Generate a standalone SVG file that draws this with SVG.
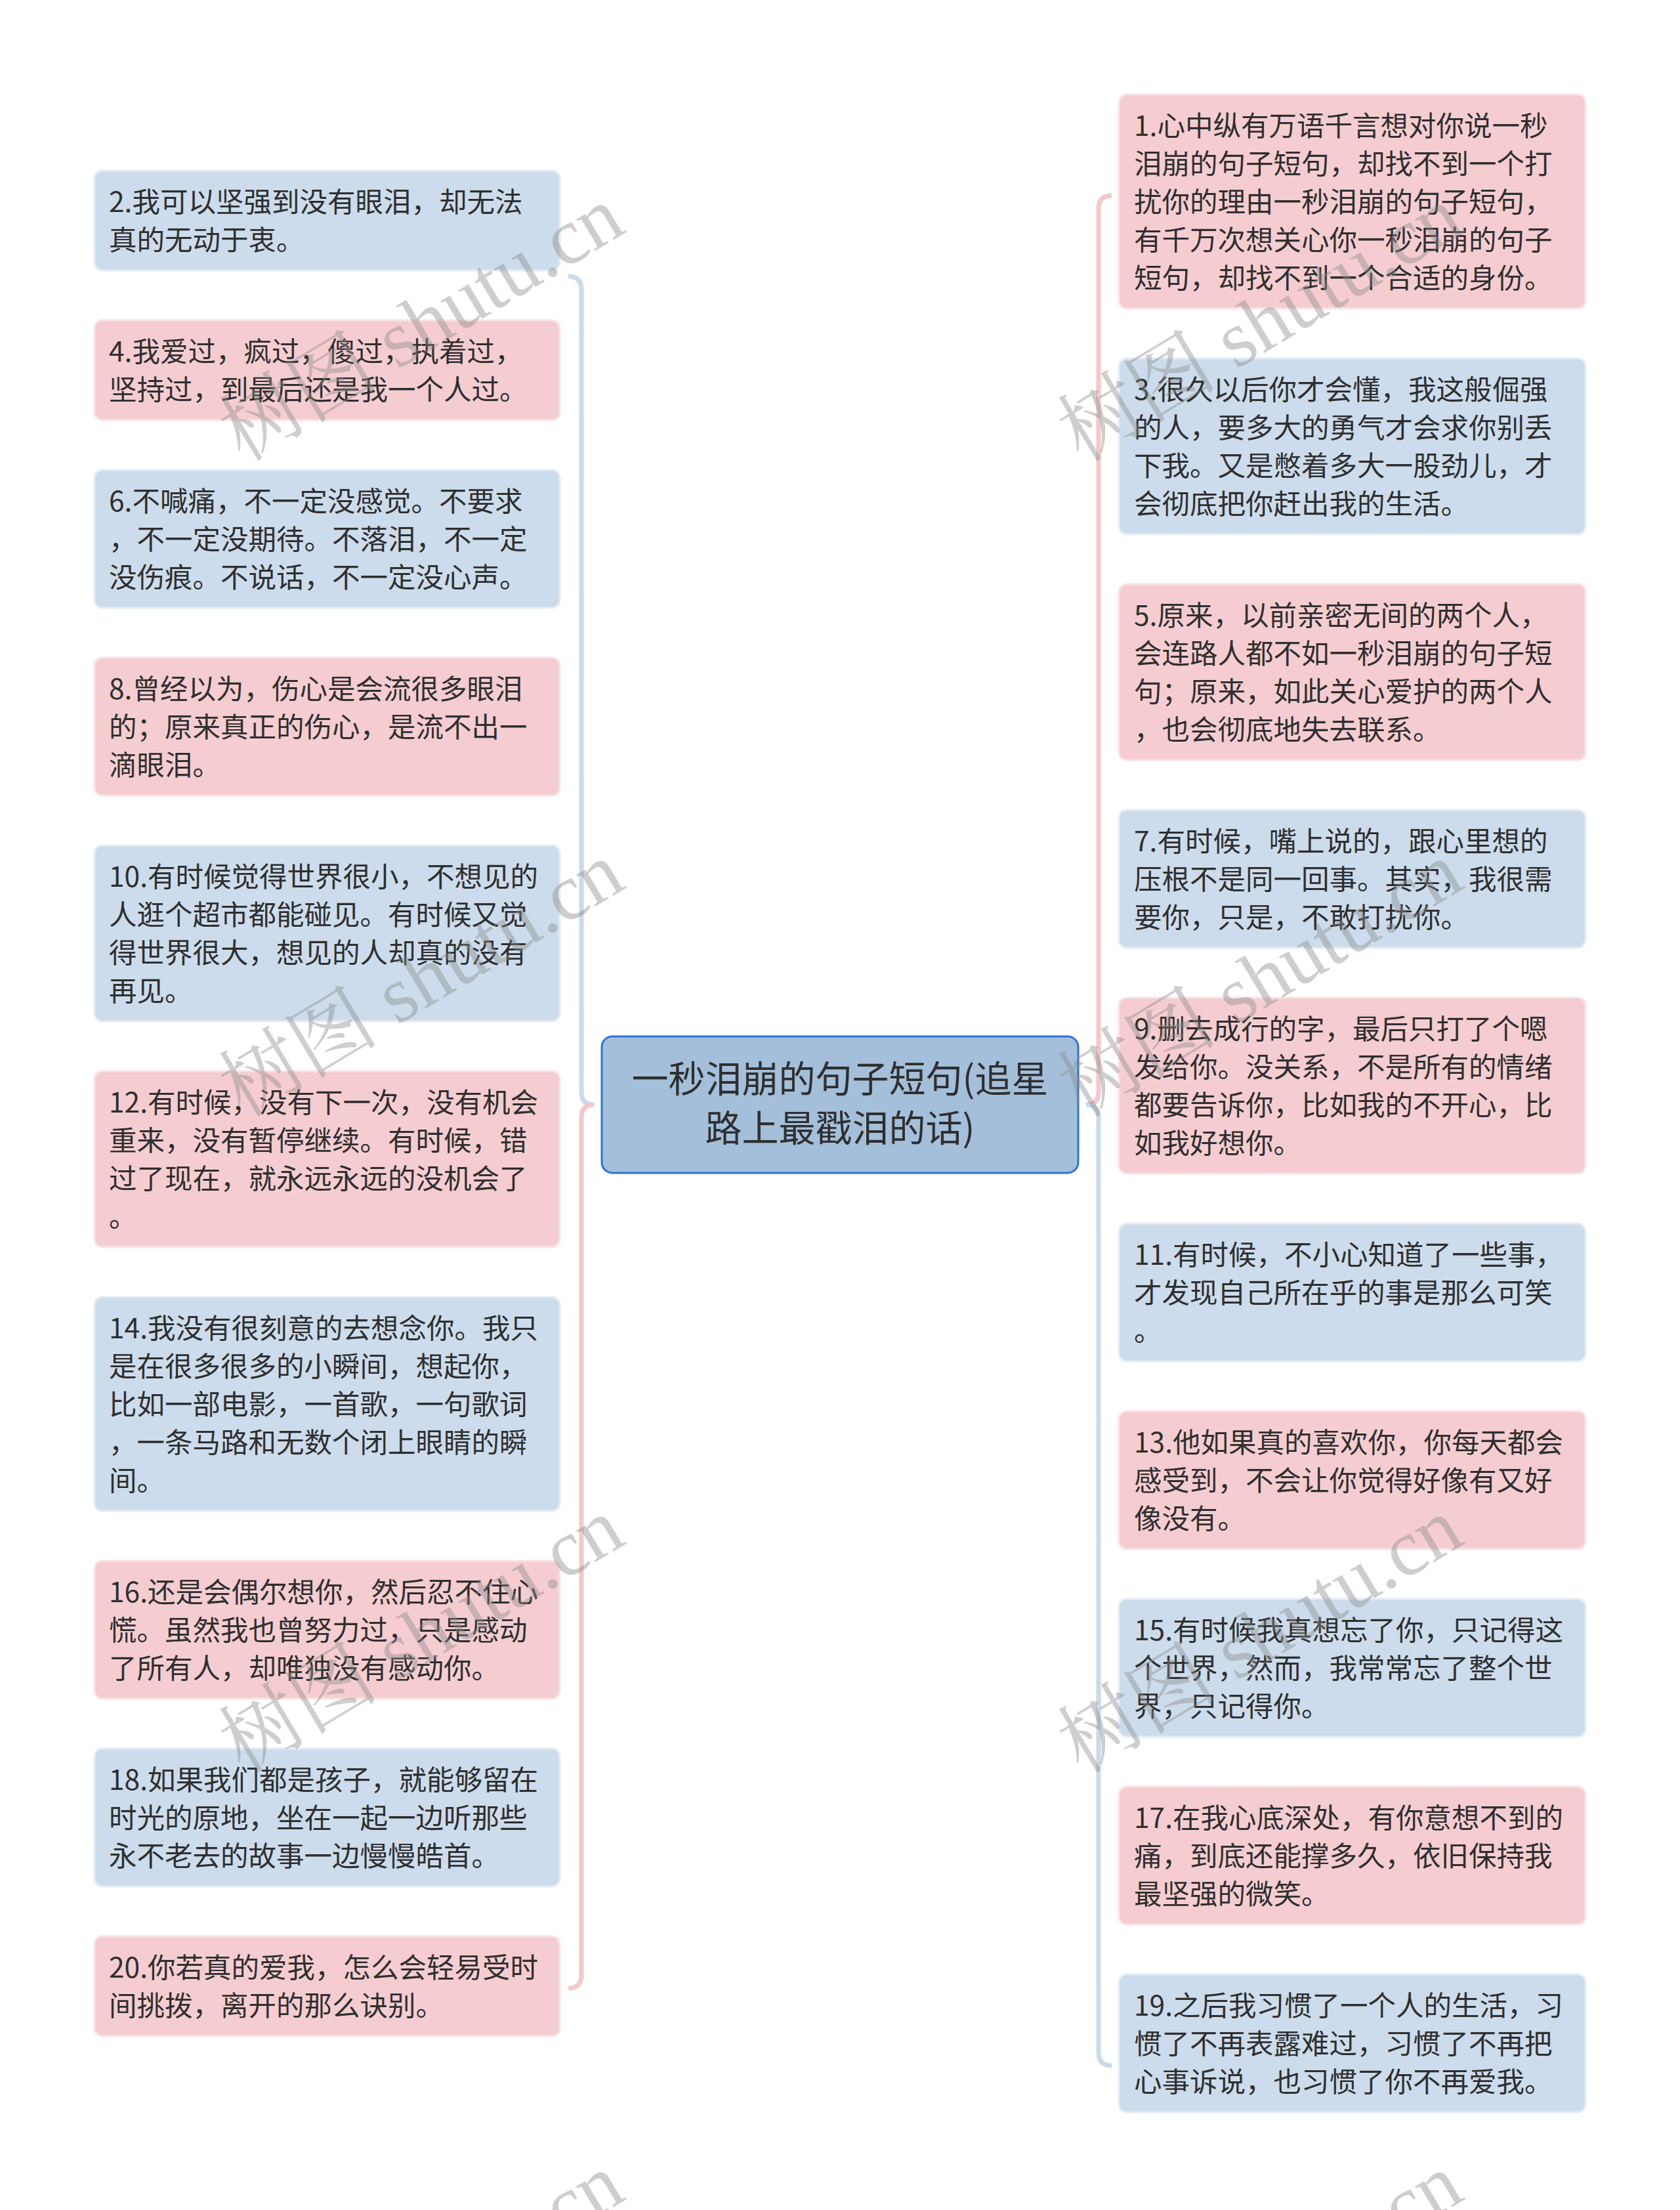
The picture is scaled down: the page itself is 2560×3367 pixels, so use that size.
<svg xmlns="http://www.w3.org/2000/svg" width="2560" height="3367" viewBox="0 0 2560 3367">
<style>
.bg{fill:#ffffff}
.nb rect{fill:#ccdcec;stroke:#e4ecf5;stroke-width:3}
.np rect{fill:#f5cdd0;stroke:#f9e3e4;stroke-width:3}
.t{font-family:"Noto Sans CJK SC","Noto Sans",sans-serif;font-size:42.5px;fill:#2f2f2f}
.ct{font-family:"Noto Sans CJK SC","Noto Sans",sans-serif;font-size:56px;fill:#2f2f2f;text-anchor:middle}
.lb{fill:none;stroke:#c9daeb;stroke-width:7;stroke-linecap:butt}
.lp{fill:none;stroke:#f3c8ca;stroke-width:7;stroke-linecap:butt}
.wm{font-family:"Liberation Serif","Noto Serif CJK SC","Noto Sans CJK SC",serif;font-size:122px;fill:#8a8a8a;fill-opacity:0.42}
</style>
<rect class="bg" x="0" y="0" width="2560" height="3367"/>
<g id="connectors">
<path class="lb" d="M 905 1683 Q 886 1683 886 1664 L 886 441 Q 886 421 866 421"/>
<path class="lp" d="M 905 1683 Q 886 1683 886 1702 L 886 3009 Q 886 3029 866 3029"/>
<path class="lp" d="M 1655 1683 Q 1674 1683 1674 1664 L 1674 318 Q 1674 298 1694 298"/>
<path class="lb" d="M 1655 1683 Q 1674 1683 1674 1702 L 1674 3127 Q 1674 3147 1694 3147"/>
</g>
<g id="center">
<rect x="917" y="1579" width="726" height="208" rx="16" fill="#a3bfda" stroke="#2f72d6" stroke-width="3"/>
<text class="ct" x="1280" y="1664">一秒泪崩的句子短句(追星</text>
<text class="ct" x="1280" y="1739">路上最戳泪的话)</text>
</g>
<g id="n2" class="nb"><rect x="144" y="260" width="709" height="152" rx="12"/>
<text class="t" x="166" y="323">2.我可以坚强到没有眼泪，却无法</text>
<text class="t" x="166" y="381">真的无动于衷。</text></g>
<g id="n4" class="np"><rect x="144" y="488" width="709" height="152" rx="12"/>
<text class="t" x="166" y="551">4.我爱过，疯过，傻过，执着过，</text>
<text class="t" x="166" y="609">坚持过，到最后还是我一个人过。</text></g>
<g id="n6" class="nb"><rect x="144" y="716" width="709" height="210" rx="12"/>
<text class="t" x="166" y="779">6.不喊痛，不一定没感觉。不要求</text>
<text class="t" x="166" y="837">，不一定没期待。不落泪，不一定</text>
<text class="t" x="166" y="895">没伤痕。不说话，不一定没心声。</text></g>
<g id="n8" class="np"><rect x="144" y="1002" width="709" height="210" rx="12"/>
<text class="t" x="166" y="1065">8.曾经以为，伤心是会流很多眼泪</text>
<text class="t" x="166" y="1123">的；原来真正的伤心，是流不出一</text>
<text class="t" x="166" y="1181">滴眼泪。</text></g>
<g id="n10" class="nb"><rect x="144" y="1288" width="709" height="268" rx="12"/>
<text class="t" x="166" y="1351">10.有时候觉得世界很小，不想见的</text>
<text class="t" x="166" y="1409">人逛个超市都能碰见。有时候又觉</text>
<text class="t" x="166" y="1467">得世界很大，想见的人却真的没有</text>
<text class="t" x="166" y="1525">再见。</text></g>
<g id="n12" class="np"><rect x="144" y="1632" width="709" height="268" rx="12"/>
<text class="t" x="166" y="1695">12.有时候，没有下一次，没有机会</text>
<text class="t" x="166" y="1753">重来，没有暂停继续。有时候，错</text>
<text class="t" x="166" y="1811">过了现在，就永远永远的没机会了</text>
<text class="t" x="166" y="1869">。</text></g>
<g id="n14" class="nb"><rect x="144" y="1976" width="709" height="326" rx="12"/>
<text class="t" x="166" y="2039">14.我没有很刻意的去想念你。我只</text>
<text class="t" x="166" y="2097">是在很多很多的小瞬间，想起你，</text>
<text class="t" x="166" y="2155">比如一部电影，一首歌，一句歌词</text>
<text class="t" x="166" y="2213">，一条马路和无数个闭上眼睛的瞬</text>
<text class="t" x="166" y="2271">间。</text></g>
<g id="n16" class="np"><rect x="144" y="2378" width="709" height="210" rx="12"/>
<text class="t" x="166" y="2441">16.还是会偶尔想你，然后忍不住心</text>
<text class="t" x="166" y="2499">慌。虽然我也曾努力过，只是感动</text>
<text class="t" x="166" y="2557">了所有人，却唯独没有感动你。</text></g>
<g id="n18" class="nb"><rect x="144" y="2664" width="709" height="210" rx="12"/>
<text class="t" x="166" y="2727">18.如果我们都是孩子，就能够留在</text>
<text class="t" x="166" y="2785">时光的原地，坐在一起一边听那些</text>
<text class="t" x="166" y="2843">永不老去的故事一边慢慢皓首。</text></g>
<g id="n20" class="np"><rect x="144" y="2950" width="709" height="152" rx="12"/>
<text class="t" x="166" y="3013">20.你若真的爱我，怎么会轻易受时</text>
<text class="t" x="166" y="3071">间挑拨，离开的那么诀别。</text></g>
<g id="n1" class="np"><rect x="1705" y="144" width="711" height="326" rx="12"/>
<text class="t" x="1728" y="207">1.心中纵有万语千言想对你说一秒</text>
<text class="t" x="1728" y="265">泪崩的句子短句，却找不到一个打</text>
<text class="t" x="1728" y="323">扰你的理由一秒泪崩的句子短句，</text>
<text class="t" x="1728" y="381">有千万次想关心你一秒泪崩的句子</text>
<text class="t" x="1728" y="439">短句，却找不到一个合适的身份。</text></g>
<g id="n3" class="nb"><rect x="1705" y="546" width="711" height="268" rx="12"/>
<text class="t" x="1728" y="609">3.很久以后你才会懂，我这般倔强</text>
<text class="t" x="1728" y="667">的人，要多大的勇气才会求你别丢</text>
<text class="t" x="1728" y="725">下我。又是憋着多大一股劲儿，才</text>
<text class="t" x="1728" y="783">会彻底把你赶出我的生活。</text></g>
<g id="n5" class="np"><rect x="1705" y="890" width="711" height="268" rx="12"/>
<text class="t" x="1728" y="953">5.原来，以前亲密无间的两个人，</text>
<text class="t" x="1728" y="1011">会连路人都不如一秒泪崩的句子短</text>
<text class="t" x="1728" y="1069">句；原来，如此关心爱护的两个人</text>
<text class="t" x="1728" y="1127">，也会彻底地失去联系。</text></g>
<g id="n7" class="nb"><rect x="1705" y="1234" width="711" height="210" rx="12"/>
<text class="t" x="1728" y="1297">7.有时候，嘴上说的，跟心里想的</text>
<text class="t" x="1728" y="1355">压根不是同一回事。其实，我很需</text>
<text class="t" x="1728" y="1413">要你，只是，不敢打扰你。</text></g>
<g id="n9" class="np"><rect x="1705" y="1520" width="711" height="268" rx="12"/>
<text class="t" x="1728" y="1583">9.删去成行的字，最后只打了个嗯</text>
<text class="t" x="1728" y="1641">发给你。没关系，不是所有的情绪</text>
<text class="t" x="1728" y="1699">都要告诉你，比如我的不开心，比</text>
<text class="t" x="1728" y="1757">如我好想你。</text></g>
<g id="n11" class="nb"><rect x="1705" y="1864" width="711" height="210" rx="12"/>
<text class="t" x="1728" y="1927">11.有时候，不小心知道了一些事，</text>
<text class="t" x="1728" y="1985">才发现自己所在乎的事是那么可笑</text>
<text class="t" x="1728" y="2043">。</text></g>
<g id="n13" class="np"><rect x="1705" y="2150" width="711" height="210" rx="12"/>
<text class="t" x="1728" y="2213">13.他如果真的喜欢你，你每天都会</text>
<text class="t" x="1728" y="2271">感受到，不会让你觉得好像有又好</text>
<text class="t" x="1728" y="2329">像没有。</text></g>
<g id="n15" class="nb"><rect x="1705" y="2436" width="711" height="210" rx="12"/>
<text class="t" x="1728" y="2499">15.有时候我真想忘了你，只记得这</text>
<text class="t" x="1728" y="2557">个世界，然而，我常常忘了整个世</text>
<text class="t" x="1728" y="2615">界，只记得你。</text></g>
<g id="n17" class="np"><rect x="1705" y="2722" width="711" height="210" rx="12"/>
<text class="t" x="1728" y="2785">17.在我心底深处，有你意想不到的</text>
<text class="t" x="1728" y="2843">痛，到底还能撑多久，依旧保持我</text>
<text class="t" x="1728" y="2901">最坚强的微笑。</text></g>
<g id="n19" class="nb"><rect x="1705" y="3008" width="711" height="210" rx="12"/>
<text class="t" x="1728" y="3071">19.之后我习惯了一个人的生活，习</text>
<text class="t" x="1728" y="3129">惯了不再表露难过，习惯了不再把</text>
<text class="t" x="1728" y="3187">心事诉说，也习惯了你不再爱我。</text></g>
<g id="watermarks">
<text class="wm" x="370" y="705" transform="rotate(-31 370 705)">树图 shutu.cn</text>
<text class="wm" x="1648" y="705" transform="rotate(-31 1648 705)">树图 shutu.cn</text>
<text class="wm" x="370" y="1704" transform="rotate(-31 370 1704)">树图 shutu.cn</text>
<text class="wm" x="1648" y="1704" transform="rotate(-31 1648 1704)">树图 shutu.cn</text>
<text class="wm" x="370" y="2703" transform="rotate(-31 370 2703)">树图 shutu.cn</text>
<text class="wm" x="1648" y="2703" transform="rotate(-31 1648 2703)">树图 shutu.cn</text>
<text class="wm" x="370" y="3702" transform="rotate(-31 370 3702)">树图 shutu.cn</text>
<text class="wm" x="1648" y="3702" transform="rotate(-31 1648 3702)">树图 shutu.cn</text>
</g>
</svg>
